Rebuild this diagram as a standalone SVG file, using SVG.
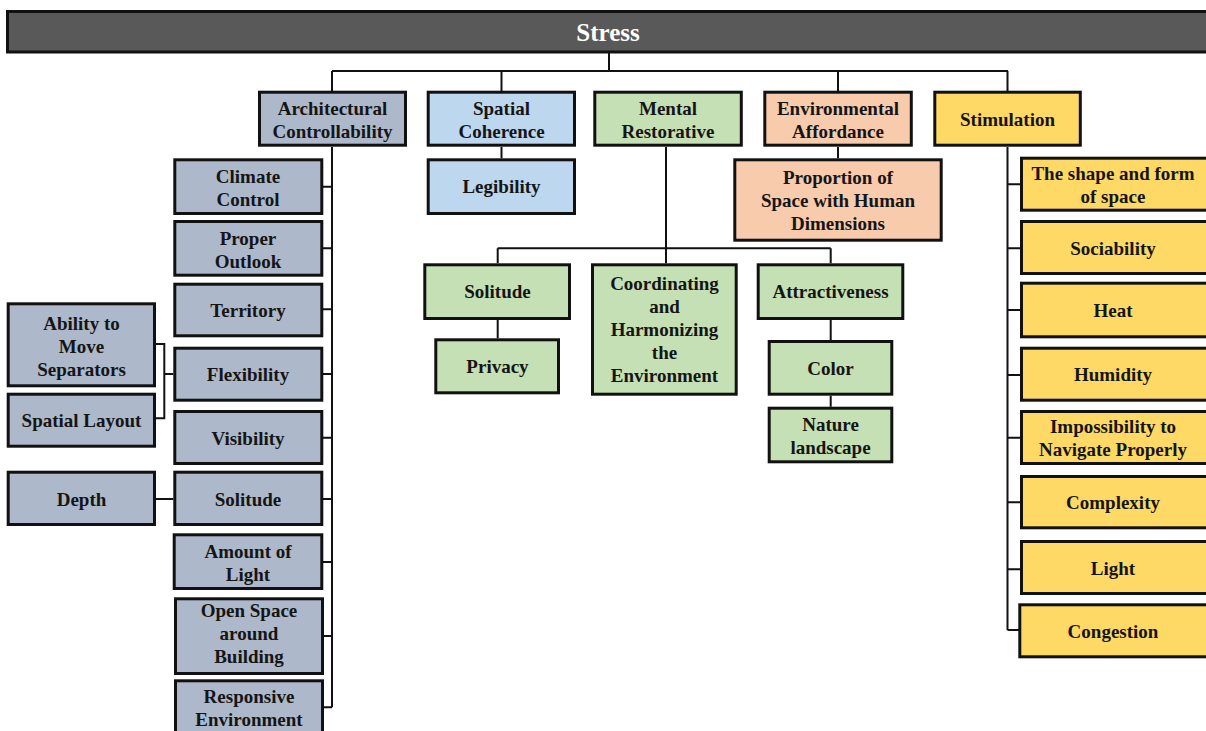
<svg xmlns="http://www.w3.org/2000/svg" width="1206" height="731" viewBox="0 0 1206 731">
<style>
text{font-family:'Liberation Serif','DejaVu Serif',serif;font-weight:700;font-size:19px;fill:#151515;text-anchor:middle}
.box{stroke:#111;stroke-width:3}
.ac{fill:#adb9ca}
.sc{fill:#bdd7ee}
.mr{fill:#c5e0b4}
.ea{fill:#f8cbad}
.st{fill:#ffd966}
.bar{fill:#595959}
text.title{fill:#fff;font-size:25px}
#connectors path{fill:none;stroke:#111;stroke-width:2}
</style>
<rect width="1206" height="731" fill="#fff"/>
<g id="connectors">
<path d="M609 53V71M332 71H1008M332 71V91M501.5 71V91M838 71V91M1007.5 71V91"/>
<path d="M332 147V707.3M323 186.7H332M323 248.3H332M323 309.3H332M323 374H332M323 437.7H332M323 499H332M323 562H332M324 636H332M324 707.3H332"/>
<path d="M156 344H164.3V418.3H156M164.3 374H173.3M156 499H173.3"/>
<path d="M501.5 147V158.3"/>
<path d="M666 147V263.3M497.7 248.3H830.7M497.7 248.3V263.3M830.7 248.3V263.3M497.7 320V338.3M830.7 320V340M830.7 395.7V406.7"/>
<path d="M838 147V158.3"/>
<path d="M1007.5 147V630M1007.5 184.3H1020M1007.5 248.3H1020M1007.5 310H1020M1007.5 375H1020M1007.5 437.7H1020M1007.5 502.3H1020M1007.5 569.3H1020M1007.5 630H1020"/>
</g>
<g id="stress"><rect class="box bar" x="7.5" y="11.5" width="1210" height="40.5"/><text class="title" x="608" y="41">Stress</text></g>
<g id="architectural-controllability"><rect class="box ac" x="259.5" y="92.2" width="146" height="53"/><text x="332.5" y="114.5">Architectural</text><text x="332.5" y="137.5">Controllability</text></g>
<g id="spatial-coherence"><rect class="box sc" x="428.2" y="92.2" width="146.3" height="53"/><text x="501.5" y="114.5">Spatial</text><text x="501.5" y="137.5">Coherence</text></g>
<g id="mental-restorative"><rect class="box mr" x="594.8" y="92.2" width="146.5" height="53"/><text x="668" y="114.5">Mental</text><text x="668" y="137.5">Restorative</text></g>
<g id="environmental-affordance"><rect class="box ea" x="764.8" y="92.2" width="146.5" height="53"/><text x="838" y="114.5">Environmental</text><text x="838" y="137.5">Affordance</text></g>
<g id="stimulation"><rect class="box st" x="934.8" y="92.2" width="145.5" height="53"/><text x="1007.5" y="126">Stimulation</text></g>

<g id="climate-control"><rect class="box ac" x="174.8" y="159.8" width="147" height="53.7"/><text x="248" y="183">Climate</text><text x="248" y="206">Control</text></g>
<g id="proper-outlook"><rect class="box ac" x="174.8" y="221.5" width="147" height="53.7"/><text x="248" y="244.5">Proper</text><text x="248" y="267.5">Outlook</text></g>
<g id="territory"><rect class="box ac" x="174.8" y="284.2" width="147" height="51.6"/><text x="248" y="317">Territory</text></g>
<g id="flexibility"><rect class="box ac" x="174.8" y="348.2" width="147" height="52"/><text x="248" y="381">Flexibility</text></g>
<g id="visibility"><rect class="box ac" x="174.8" y="411.5" width="147" height="52"/><text x="248" y="444.5">Visibility</text></g>
<g id="solitude-ac"><rect class="box ac" x="174.8" y="472.2" width="147" height="52.3"/><text x="248" y="505.5">Solitude</text></g>
<g id="amount-of-light"><rect class="box ac" x="174.2" y="534.8" width="147.6" height="53.7"/><text x="248" y="558">Amount of</text><text x="248" y="581">Light</text></g>
<g id="open-space-around-building"><rect class="box ac" x="175.5" y="598.8" width="147" height="74.7"/><text x="249" y="617">Open Space</text><text x="249" y="640">around</text><text x="249" y="663">Building</text></g>
<g id="responsive-environment"><rect class="box ac" x="175.5" y="680.8" width="147" height="64"/><text x="249" y="703">Responsive</text><text x="249" y="726">Environment</text></g>

<g id="ability-to-move-separators"><rect class="box ac" x="8.2" y="303.8" width="146.3" height="82"/><text x="81.5" y="329.5">Ability to</text><text x="81.5" y="352.5">Move</text><text x="81.5" y="375.5">Separators</text></g>
<g id="spatial-layout"><rect class="box ac" x="8.2" y="394.2" width="146.3" height="52"/><text x="81.5" y="427">Spatial Layout</text></g>
<g id="depth"><rect class="box ac" x="8.2" y="472.2" width="146.3" height="52.3"/><text x="81.5" y="505.5">Depth</text></g>

<g id="legibility"><rect class="box sc" x="428.2" y="159.8" width="146.3" height="53.7"/><text x="501.5" y="193">Legibility</text></g>

<g id="solitude-mr"><rect class="box mr" x="424.8" y="264.8" width="144.7" height="53.7"/><text x="497.5" y="298">Solitude</text></g>
<g id="privacy"><rect class="box mr" x="435.8" y="339.8" width="122.7" height="53"/><text x="497.5" y="373">Privacy</text></g>
<g id="coordinating"><rect class="box mr" x="592.5" y="264.8" width="143.7" height="129.4"/><text x="664.5" y="290">Coordinating</text><text x="664.5" y="313">and</text><text x="664.5" y="336">Harmonizing</text><text x="664.5" y="359">the</text><text x="664.5" y="382">Environment</text></g>
<g id="attractiveness"><rect class="box mr" x="758.2" y="264.8" width="144.6" height="53.7"/><text x="830.5" y="298">Attractiveness</text></g>
<g id="color"><rect class="box mr" x="769.2" y="341.5" width="122.6" height="52.7"/><text x="830.5" y="375">Color</text></g>
<g id="nature-landscape"><rect class="box mr" x="769.2" y="408.2" width="122.6" height="53.6"/><text x="830.5" y="431">Nature</text><text x="830.5" y="454">landscape</text></g>

<g id="proportion"><rect class="box ea" x="734.8" y="159.8" width="206.4" height="80.4"/><text x="838" y="184">Proportion of</text><text x="838" y="207">Space with Human</text><text x="838" y="230">Dimensions</text></g>

<g id="shape-and-form"><rect class="box st" x="1021.5" y="158.2" width="192" height="52"/><text x="1113" y="180">The shape and form</text><text x="1113" y="203">of space</text></g>
<g id="sociability"><rect class="box st" x="1021.5" y="221.5" width="192" height="52"/><text x="1113" y="254.5">Sociability</text></g>
<g id="heat"><rect class="box st" x="1021.5" y="283.2" width="192" height="53.6"/><text x="1113" y="317">Heat</text></g>
<g id="humidity"><rect class="box st" x="1021.5" y="348.2" width="192" height="52"/><text x="1113" y="381">Humidity</text></g>
<g id="impossibility"><rect class="box st" x="1021.5" y="411.5" width="192" height="52"/><text x="1113" y="433">Impossibility to</text><text x="1113" y="456">Navigate Properly</text></g>
<g id="complexity"><rect class="box st" x="1021.5" y="476.5" width="192" height="51.3"/><text x="1113" y="509">Complexity</text></g>
<g id="light"><rect class="box st" x="1021.5" y="541.5" width="192" height="52"/><text x="1113" y="574.5">Light</text></g>
<g id="congestion"><rect class="box st" x="1019.8" y="604.8" width="193.7" height="52"/><text x="1113" y="637.5">Congestion</text></g>
</svg>
